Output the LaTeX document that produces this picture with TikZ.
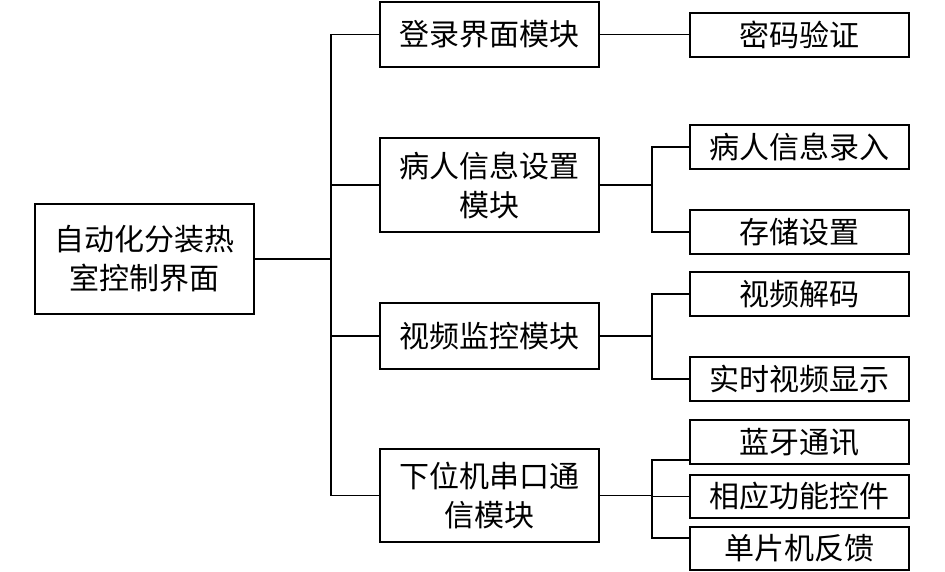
\documentclass[tikz,border=0pt]{standalone}
\usepackage{fontspec}
\newfontfamily\cjk{Noto Sans CJK SC}
\begin{document}
\begin{tikzpicture}[x=1pt,y=-1pt,
  box/.style={draw,line width=1.5pt,inner sep=0pt,align=center,minimum width=219pt,
    font=\cjk\fontsize{30}{39}\selectfont},
  conn/.style={line width=1.5pt}]
\useasboundingbox (0,0) rectangle (945,572);
% root and middle boxes
\node[box,minimum height=110pt] (root) at (144.5,259) {自动化分装热\\室控制界面};
\node[box,minimum height=65pt] (m1) at (489.5,34.5) {登录界面模块};
\node[box,minimum height=94pt] (m2) at (489.5,185) {病人信息设置\\模块};
\node[box,minimum height=66pt] (m3) at (489.5,336) {视频监控模块};
\node[box,minimum height=93pt] (m4) at (489.5,495.5) {下位机串口通\\信模块};
% right boxes
\node[box,minimum height=44pt] (r1) at (799.5,35) {密码验证};
\node[box,minimum height=44pt] (r2) at (799.5,147) {病人信息录入};
\node[box,minimum height=44pt] (r3) at (799.5,232) {存储设置};
\node[box,minimum height=44pt] (r4) at (799.5,294) {视频解码};
\node[box,minimum height=44pt] (r5) at (799.5,379) {实时视频显示};
\node[box,minimum height=44pt] (r6) at (799.5,442) {蓝牙通讯};
\node[box,minimum height=43pt] (r7) at (799.5,496.5) {相应功能控件};
\node[box,minimum height=43pt] (r8) at (799.5,548.5) {单片机反馈};
% trunk coordinates
\coordinate (tr) at (331,0);
\coordinate (st) at (652,0);
\coordinate (b6) at (690,460);
\coordinate (b8) at (690,538);
% main trunk
\draw[conn] (root.east) -- (root.east -| tr);
\draw[conn] (m1.west) -- (m1.west -| tr) -- (m4.west -| tr) -- (m4.west);
\draw[conn] (m2.west) -- (m2.west -| tr);
\draw[conn] (m3.west) -- (m3.west -| tr);
% login
\draw[conn] (m1.east) -- (m1.east -| r1.west);
% patient
\draw[conn] (m2.east) -- (m2.east -| st);
\draw[conn] (r2.west) -- (r2.west -| st) -- (r3.west -| st) -- (r3.west);
% video
\draw[conn] (m3.east) -- (m3.east -| st);
\draw[conn] (r4.west) -- (r4.west -| st) -- (r5.west -| st) -- (r5.west);
% serial
\draw[conn] (m4.east) -- (m4.east -| st);
\draw[conn] (b6) -- (b6 -| st) -- (b8 -| st) -- (b8);
\draw[conn] (r7.west -| st) -- (r7.west);
\end{tikzpicture}
\end{document}
